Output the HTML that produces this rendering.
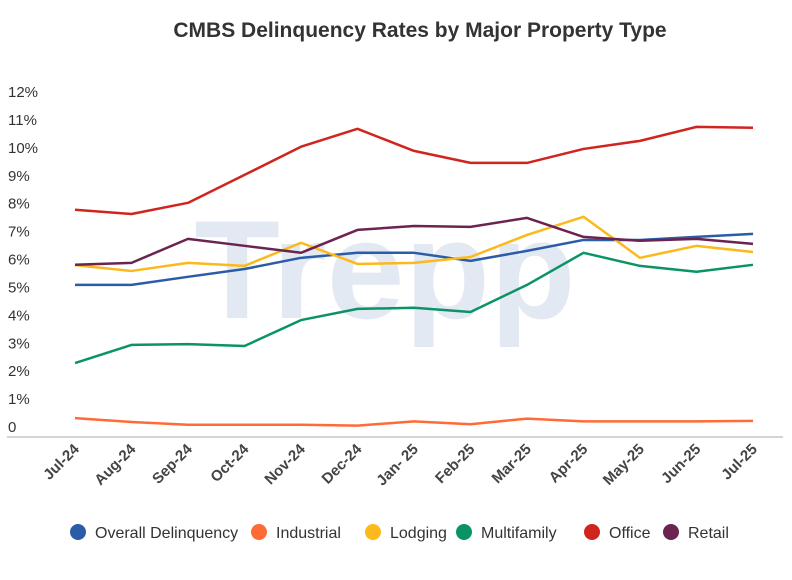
<!DOCTYPE html>
<html><head><meta charset="utf-8"><style>
body{margin:0;background:#fff;width:792px;height:575px;overflow:hidden;font-family:"Liberation Sans",sans-serif}
</style></head><body>
<svg id="chart" width="792" height="575" xmlns="http://www.w3.org/2000/svg">
<text x="420" y="37" text-anchor="middle" font-size="21" font-weight="bold" fill="#333">CMBS Delinquency Rates by Major Property Type</text>
<text x="385" y="318" text-anchor="middle" font-size="140" font-weight="bold" fill="#e3e9f3">Trepp</text>
<g id="yaxis"></g><g id="xaxis"></g><g id="series"></g><g id="legend"></g>
</svg>
<script>
const categories=["Jul-24","Aug-24","Sep-24","Oct-24","Nov-24","Dec-24","Jan- 25","Feb-25","Mar-25","Apr-25","May-25","Jun-25","Jul-25"];
const yTicks=[0,1,2,3,4,5,6,7,8,9,10,11,12];
const seriesNames=["Overall Delinquency","Industrial","Lodging","Multifamily","Office","Retail"];
const seriesColors=["#2b5ca8","#ff6b35","#fbb91c","#0a9466","#d0251f","#6b2450"];
const overall=[5.09,5.09,5.38,5.66,6.06,6.24,6.24,5.95,6.31,6.70,6.70,6.81,6.92];
const industrial=[0.32,0.18,0.08,0.08,0.08,0.05,0.2,0.1,0.3,0.2,0.2,0.2,0.22];
const lodging=[5.8,5.59,5.88,5.77,6.6,5.84,5.88,6.09,6.88,7.53,6.06,6.49,6.27];
const multifamily=[2.29,2.94,2.97,2.9,3.83,4.23,4.27,4.12,5.09,6.24,5.77,5.56,5.81];
const office=[7.78,7.63,8.03,9.03,10.04,10.68,9.89,9.46,9.46,9.96,10.25,10.75,10.72];
const retail=[5.81,5.88,6.74,6.49,6.24,7.06,7.2,7.17,7.49,6.81,6.67,6.74,6.56];
const seriesData=[overall,industrial,lodging,multifamily,office,retail];
const NS="http://www.w3.org/2000/svg";
const x=i=>75+i*(753-75)/(categories.length-1);
const y=v=>427-v*(427-92)/12;
function mk(t,a,p){const e=document.createElementNS(NS,t);for(const k in a)e.setAttribute(k,a[k]);p.appendChild(e);return e;}
const ya=document.getElementById('yaxis');
yTicks.forEach(v=>{const t=mk('text',{x:8,y:y(v)+5,'font-size':15,fill:'#333'},ya);t.textContent=v===0?'0':v+'%';

});
const xa=document.getElementById('xaxis');
const al=mk('line',{x1:7,x2:783,y1:437,y2:437,stroke:'#aaa','stroke-width':1},xa);


categories.forEach((c,i)=>{const t=mk('text',{x:x(i)+5,y:450,'font-size':15,'font-weight':'bold',fill:'#444','text-anchor':'end',transform:`rotate(-45 ${x(i)+5} 450)`},xa);t.textContent=c;

});
const sg=document.getElementById('series');
seriesData.forEach((d,s)=>{const p=mk('polyline',{points:d.map((v,i)=>x(i)+','+y(v)).join(' '),fill:'none',stroke:seriesColors[s],'stroke-width':2.5,'stroke-linejoin':'round'},sg);

});
const lg=document.getElementById('legend');
const lx=[78,259,373,464,592,671];
seriesNames.forEach((n,s)=>{const g=mk('g',{},lg);


mk('circle',{cx:lx[s],cy:532,r:8,fill:seriesColors[s]},g);
const t=mk('text',{x:lx[s]+17,y:538,'font-size':16,fill:'#333'},g);t.textContent=n;});
</script>
</body></html>
